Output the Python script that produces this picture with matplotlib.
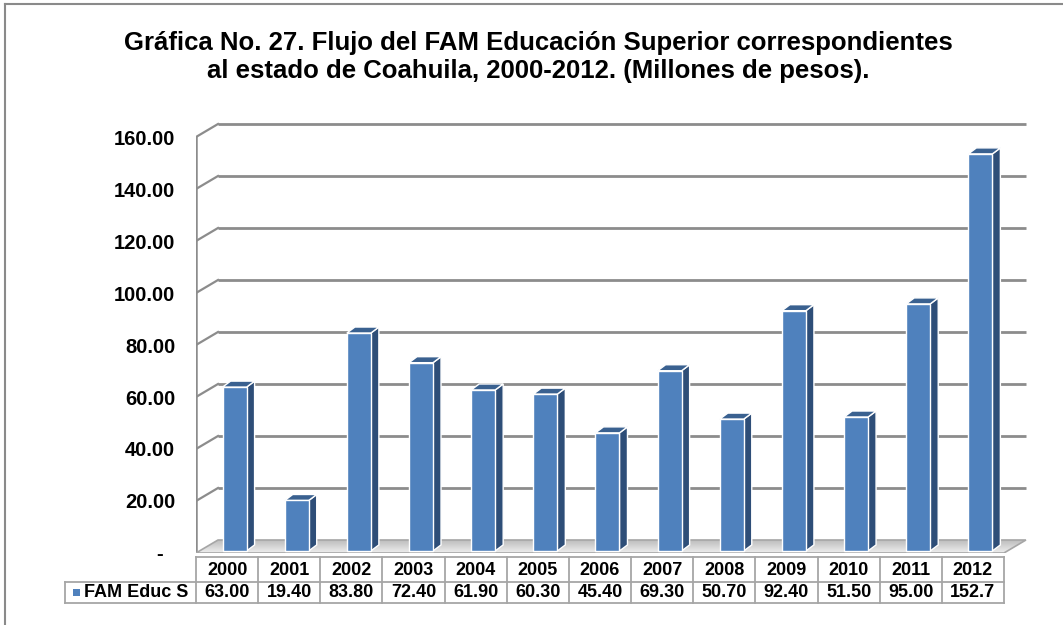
import matplotlib
matplotlib.use("Agg")
import matplotlib.pyplot as plt
import matplotlib.transforms as mtransforms
from matplotlib.patches import Polygon, Rectangle
from matplotlib.lines import Line2D
import numpy as np

plt.rcParams['font.family'] = ['Liberation Sans', 'DejaVu Sans']

# datos
years = ['2000', '2001', '2002', '2003', '2004', '2005', '2006',
         '2007', '2008', '2009', '2010', '2011', '2012']
fam_educ_s = [63.00, 19.40, 83.80, 72.40, 61.90, 60.30, 45.40,
              69.30, 50.70, 92.40, 51.50, 95.00, 152.7]
value_labels = ['63.00', '19.40', '83.80', '72.40', '61.90', '60.30', '45.40',
                '69.30', '50.70', '92.40', '51.50', '95.00', '152.7']
y_ticks = [0, 20, 40, 60, 80, 100, 120, 140, 160]
y_ticklabels = ['-  ', '20.00', '40.00', '60.00', '80.00', '100.00',
                '120.00', '140.00', '160.00']
series_name = 'FAM Educ S'
title = ('Gráfica No. 27. Flujo del FAM Educación Superior correspondientes\n'
         'al estado de Coahuila, 2000-2012. (Millones de pesos).')

W, H = 1063, 625
fig = plt.figure(figsize=(W / 100, H / 100), dpi=100)
fig.patch.set_facecolor('white')

# zona del grafico en pixeles
px_left, px_right, px_top, px_bottom = 196, 1030, 115, 553
cat_px = 62.15
val_px = 2.6
ax = fig.add_axes([px_left / W, 1 - px_bottom / H,
                   (px_right - px_left) / W, (px_bottom - px_top) / H])
ax.set_xlim(-0.5, -0.5 + (px_right - px_left) / cat_px)
ax.set_ylim(0, (px_bottom - px_top) / val_px)
for s in ax.spines.values():
    s.set_visible(False)
ax.set_xticks([])

n = len(years)
x = np.arange(n)
x0, x1 = -0.5, n - 0.5
dx, dy = 22 / cat_px, 13 / val_px      # profundidad de la pared
grid_c = '#8c8c8c'

# piso con degradado
floor = Polygon([(x0, 0), (x1, 0), (x1 + dx, dy), (x0 + dx, dy)],
                closed=True, fc='none', ec='#a6a6a6', lw=1.2, zorder=2)
ax.add_patch(floor)
grad = np.linspace(0, 1, 50).reshape(-1, 1)
im = ax.imshow(grad, cmap=matplotlib.colors.LinearSegmentedColormap.from_list(
    'piso', ['#eeeeee', '#bdbdbd']), extent=[x0, x1 + dx, 0, dy],
    aspect='auto', origin='lower', zorder=1)
im.set_clip_path(floor)

# pared: lineas de cuadricula
for v in y_ticks:
    if v > 0:
        ax.plot([x0 + dx, x1 + dx], [v + dy, v + dy], color=grid_c, lw=2,
                zorder=1, solid_capstyle='butt')
        ax.plot([x0, x0 + dx], [v, v + dy], color=grid_c, lw=1.6, zorder=1)
ax.plot([x0, x0], [0, y_ticks[-1]], color=grid_c, lw=1.8, zorder=1)

# barras 3D
bw = 24 / cat_px
shift = 7.5 / cat_px
base = 0.8
bdx, bdy = 8 / cat_px, 6 / val_px
front_c, side_c, top_c = '#4f81bd', '#2e4e78', '#3a6190'
xl_all = x + shift - bw / 2
ax.bar(x + shift, fam_educ_s, width=bw, bottom=base, color=front_c,
       edgecolor='white', linewidth=1, zorder=4)
for xl, v in zip(xl_all, fam_educ_s):
    xr = xl + bw
    top = base + v
    ax.add_patch(Polygon([(xr, base), (xr + bdx, base + bdy),
                          (xr + bdx, top + bdy), (xr, top)],
                         closed=True, fc=side_c, ec='white', lw=1, zorder=3))
    ax.add_patch(Polygon([(xl, top), (xl + bdx, top + bdy),
                          (xr + bdx, top + bdy), (xr, top)],
                         closed=True, fc=top_c, ec='white', lw=1, zorder=3))

# eje y
ax.set_yticks(y_ticks)
ax.set_yticklabels(y_ticklabels, fontsize=14.5, fontweight='bold')
ax.tick_params(axis='y', length=0, pad=15)

# tabla de datos
tr = mtransforms.blended_transform_factory(ax.transData, fig.transFigure)
def fy(p):
    return 1 - p / H

line_c = '#a6a6a6'
t_top, t_mid, t_bot = 557, 582, 603
hdr_left = x0 - 131 / cat_px
for yy, xa in [(t_top, x0), (t_mid, hdr_left), (t_bot, hdr_left)]:
    fig.add_artist(Line2D([xa, x1], [fy(yy), fy(yy)], color=line_c, lw=1.3,
                          transform=tr))
for i in range(n + 1):
    fig.add_artist(Line2D([x0 + i, x0 + i], [fy(t_top), fy(t_bot)],
                          color=line_c, lw=1.3, transform=tr))
fig.add_artist(Line2D([hdr_left, hdr_left], [fy(t_mid), fy(t_bot)],
                      color=line_c, lw=1.3, transform=tr))
for i in range(n):
    fig.text(x[i], fy((t_top + t_mid) / 2 + 1), years[i], transform=tr,
             ha='center', va='center', fontsize=13, fontweight='bold')
    fig.text(x[i], fy((t_mid + t_bot) / 2), value_labels[i], transform=tr,
             ha='center', va='center', fontsize=13, fontweight='bold')
key_x = hdr_left + 8 / cat_px
fig.add_artist(Rectangle((key_x, fy((t_mid + t_bot) / 2) - 3.5 / H),
                         7 / cat_px, 7 / H, transform=tr, fc=front_c, ec='none'))
fig.text(hdr_left + 19 / cat_px, fy((t_mid + t_bot) / 2), series_name,
         transform=tr, ha='left', va='center', fontsize=13, fontweight='bold')

# titulo
fig.text(538 / W, fy(57), title, ha='center', va='center', fontsize=18.5,
         fontweight='bold', linespacing=1.25)

# marco del grafico
fig.add_artist(Line2D([5 / W, 5 / W], [0, fy(4)], color='#8a8a8a', lw=1.5))
fig.add_artist(Line2D([5 / W, 1], [fy(4), fy(4)], color='#8a8a8a', lw=1.5))

fig.savefig('out.png', dpi=100)
